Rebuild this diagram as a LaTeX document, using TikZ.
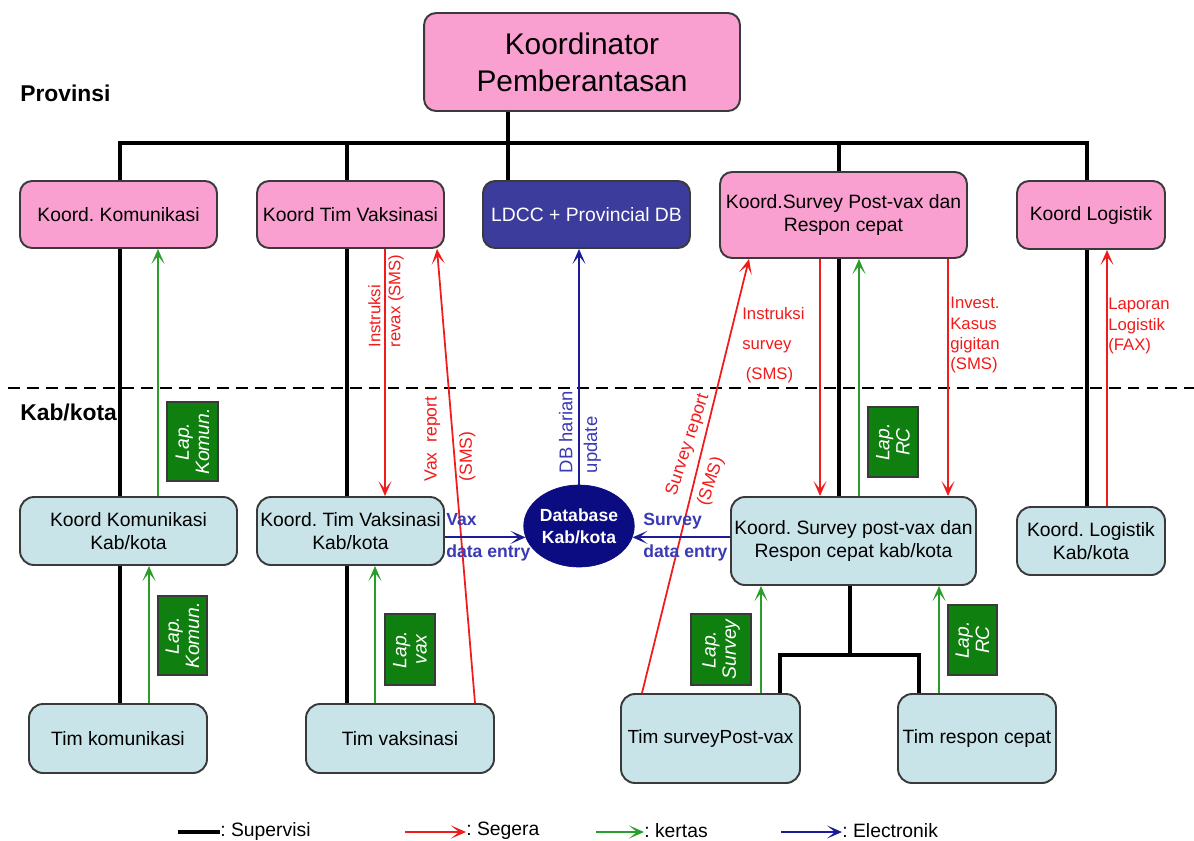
\documentclass[tikz,border=0pt]{standalone}
\usepackage{fontspec}
\setmainfont{Liberation Sans}
\usetikzlibrary{arrows.meta,shapes.geometric}
\definecolor{pinkf}{HTML}{FAA0D0}
\definecolor{lblue}{HTML}{C8E4E9}
\definecolor{ldccf}{HTML}{3C3C9C}
\definecolor{dbf}{HTML}{0C0C82}
\definecolor{lapg}{HTML}{0F800F}
\definecolor{kgreen}{HTML}{2A9D2A}
\definecolor{sred}{HTML}{F21B1B}
\definecolor{enavy}{HTML}{1C1C96}
\definecolor{btext}{HTML}{3A3AB4}
\definecolor{edge}{HTML}{3A3A3A}
\begin{document}
\frenchspacing
\begin{tikzpicture}[x=0.02cm,y=-0.02cm,
  nbox/.style={draw=edge, line width=1.1pt, rounded corners=2.4mm, inner sep=0pt, align=center, font=\fontsize{11}{13.5}\selectfont},
  pbox/.style={nbox, fill=pinkf},
  bbox/.style={nbox, fill=lblue, rounded corners=2.8mm},
  sup/.style={line width=2pt, black},
  arrowhd/.style={-{Stealth[length=3mm,width=2.6mm,inset=1.6mm]}},
  seg/.style={arrowhd, draw=sred, line width=1pt},
  ker/.style={arrowhd, draw=kgreen, line width=1pt},
  ele/.style={arrowhd, draw=enavy, line width=1pt},
  lap/.style={draw=edge, line width=0.8pt, fill=lapg, text=white, rotate=90, inner sep=0pt, align=center, font=\fontsize{11}{11.5}\selectfont\itshape},
  redlab/.style={text=sred, inner sep=0pt, font=\fontsize{9.5}{11.4}\selectfont},
  bluelab/.style={text=btext, inner sep=0pt, anchor=base west, font=\fontsize{10}{12}\selectfont\bfseries},
  tierlab/.style={inner sep=0pt, anchor=west, font=\fontsize{13}{15}\selectfont\bfseries},
  legtext/.style={inner sep=0pt, anchor=west, font=\fontsize{11}{13}\selectfont}
]
\useasboundingbox (0,0) rectangle (1194,840);
\fill[white] (0,0) rectangle (1194,840);

% ---------- Provinsi level ----------
\node[pbox, minimum width=6.32cm, minimum height=1.96cm, font=\fontsize{17}{21}\selectfont] (kp) at (582,62) {Koordinator\\Pemberantasan};
\node[pbox, minimum width=3.94cm, minimum height=1.34cm] (kom) at (118.5,214.5) {Koord. Komunikasi};
\node[pbox, minimum width=3.74cm, minimum height=1.34cm] (vak) at (350.5,214.5) {Koord Tim Vaksinasi};
\node[nbox, fill=ldccf, text=white, minimum width=4.14cm, minimum height=1.34cm] (ldcc) at (586.5,214.5) {LDCC + Provincial DB};
\node[pbox, minimum width=4.94cm, minimum height=1.72cm] (sur) at (843.5,215) {Koord.Survey Post-vax dan\\Respon cepat};
\node[pbox, minimum width=2.96cm, minimum height=1.36cm] (log) at (1091,215) {Koord Logistik};

% ---------- Kab/kota level ----------
\node[bbox, minimum width=4.34cm, minimum height=1.36cm] (kkom) at (128.5,531) {Koord Komunikasi\\Kab/kota};
\node[bbox, minimum width=3.74cm, minimum height=1.36cm] (kvak) at (350.5,531) {Koord. Tim Vaksinasi\\Kab/kota};
\node[ellipse, fill=dbf, draw=dbf, minimum width=1.88cm, minimum height=1.64cm, inner sep=0pt, text=white, align=center, font=\fontsize{10}{12.5}\selectfont\bfseries] (db) at (579,526) {Database\\Kab/kota};
\node[bbox, minimum width=4.90cm, minimum height=1.76cm] (ksur) at (853.5,541) {Koord. Survey post-vax dan\\Respon cepat kab/kota};
\node[bbox, minimum width=2.96cm, minimum height=1.36cm] (klog) at (1091,541) {Koord. Logistik\\Kab/kota};

\node[bbox, minimum width=3.56cm, minimum height=1.38cm] (tkom) at (118,738.5) {Tim komunikasi};
\node[bbox, minimum width=3.76cm, minimum height=1.38cm] (tvak) at (400,738.5) {Tim vaksinasi};
\node[bbox, minimum width=3.58cm, minimum height=1.78cm, font=\fontsize{10.8}{13}\selectfont] (tsur) at (710.5,738.5) {Tim surveyPost-vax};
\node[bbox, minimum width=3.16cm, minimum height=1.78cm] (trc) at (977,738.5) {Tim respon cepat};

% ---------- tier labels and divider ----------
\node[tierlab] (prov) at (20,93) {Provinsi};
\node[tierlab] (kab) at (20,412) {Kab/kota};
\coordinate (dl) at (8,388);
\coordinate (dr) at (1194,388);
\draw[line width=1.4pt, dash pattern=on 6.8pt off 4pt] (dl) -- (dr);

% ---------- x positions ----------
\coordinate (xs1) at (120,0);
\coordinate (xs2) at (347,0);
\coordinate (xs3) at (508,0);
\coordinate (xs4) at (839,0);
\coordinate (xs5) at (1087,0);
\coordinate (bus1) at (120,143);
\coordinate (bus5) at (1087,143);
\coordinate (t0) at (850,655);
\coordinate (t1) at (780,655);
\coordinate (t2) at (919,655);

% ---------- supervisi ----------
\draw[sup] (kom.north -| bus1) -- (bus1) -- (bus5) -- (log.north -| bus5);
\draw[sup] (vak.north -| xs2) -- (xs2 |- bus1);
\draw[sup] (kp.south -| xs3) -- (ldcc.north -| xs3);
\draw[sup] (sur.north -| xs4) -- (xs4 |- bus1);
\draw[sup] (kom.south -| xs1) -- (kkom.north -| xs1);
\draw[sup] (kkom.south -| xs1) -- (tkom.north -| xs1);
\draw[sup] (vak.south -| xs2) -- (kvak.north -| xs2);
\draw[sup] (kvak.south -| xs2) -- (tvak.north -| xs2);
\draw[sup] (sur.south -| xs4) -- (ksur.north -| xs4);
\draw[sup] (log.south -| xs5) -- (klog.north -| xs5);
\draw[sup] (ksur.south -| t0) -- (t0);
\draw[sup] (tsur.north -| t1) |- (t2) -- (trc.north -| t2);

% ---------- kertas (green) ----------
\coordinate (g1) at (158,0);
\coordinate (g2) at (149,0);
\coordinate (g3) at (375,0);
\coordinate (g4) at (859,0);
\coordinate (g5) at (761,0);
\coordinate (g6) at (939,0);
\draw[ker] (kkom.north -| g1) -- (kom.south -| g1);
\draw[ker] (tkom.north -| g2) -- (kkom.south -| g2);
\draw[ker] (tvak.north -| g3) -- (kvak.south -| g3);
\draw[ker] (ksur.north -| g4) -- (sur.south -| g4);
\draw[ker] (tsur.north -| g5) -- (ksur.south -| g5);
\draw[ker] (trc.north -| g6) -- (ksur.south -| g6);

% ---------- segera (red) ----------
\coordinate (r1) at (385,0);
\coordinate (r2a) at (475,0);
\coordinate (r2b) at (437,0);
\coordinate (r3a) at (642,0);
\coordinate (r3b) at (749,0);
\coordinate (r4) at (820,0);
\coordinate (r5) at (948,0);
\coordinate (r6) at (1107,0);
\draw[seg] (vak.south -| r1) -- (kvak.north -| r1);
\draw[seg] (tvak.north -| r2a) -- (vak.south -| r2b);
\draw[seg] (tsur.north -| r3a) -- (sur.south -| r3b);
\draw[seg] (sur.south -| r4) -- (ksur.north -| r4);
\draw[seg] (sur.south -| r5) -- (ksur.north -| r5);
\draw[seg] (klog.north -| r6) -- (log.south -| r6);

% ---------- electronik (blue) ----------
\draw[ele] (db.north) -- (ldcc.south -| db.north);
\draw[ele] (kvak.east |- db.192) -- (db.192);
\draw[ele] (ksur.west |- db.348) -- (db.348);

% ---------- labels ----------
\node[redlab, rotate=90, align=left] (lrevax) at (386,301) {Instruksi\\revax (SMS)};
\node[redlab, rotate=90, align=left, font=\fontsize{10}{20}\selectfont] (lvax) at (450,439) {Vax\ \ report\\(SMS)};
\node[redlab, rotate=72, align=left, font=\fontsize{10}{19}\selectfont] (lsurv) at (704,450) {Survey report\\(SMS)};
\node[redlab, anchor=west, align=left, font=\fontsize{9.5}{17}\selectfont] (linst) at (742,345) {Instruksi\\survey\\\hspace*{2pt}(SMS)};
\node[redlab, anchor=west, align=left] (linv) at (950,335) {Invest.\\Kasus\\gigitan\\(SMS)};
\node[redlab, anchor=west, align=left] (llog) at (1108,326) {Laporan\\Logistik\\(FAX)};

\node[bluelab] (lvx) at (446,525) {Vax};
\node[bluelab] (lvde) at (446,557) {data entry};
\node[bluelab] (lsv) at (643,525) {Survey};
\node[bluelab] (lsde) at (643,557) {data entry};
\node[text=btext, inner sep=0pt, rotate=90, align=left, font=\fontsize{10.5}{14}\selectfont] (ldb) at (580,432) {DB harian\\update};

\node[lap, minimum width=1.58cm, minimum height=1.02cm] (lap1) at (192.5,441.5) {Lap.\\Komun.};
\node[lap, minimum width=1.58cm, minimum height=0.98cm] (lap2) at (182.5,635.5) {Lap.\\Komun.};
\node[lap, minimum width=1.42cm, minimum height=1.0cm] (lap3) at (410,649.5) {Lap.\\vax};
\node[lap, minimum width=1.40cm, minimum height=1.0cm] (lap4) at (893,442) {Lap.\\RC};
\node[lap, minimum width=1.42cm, minimum height=1.2cm] (lap5) at (721,649.5) {Lap.\\Survey};
\node[lap, minimum width=1.40cm, minimum height=0.98cm] (lap6) at (972.5,640) {Lap.\\RC};

% ---------- legend ----------
\node[legtext] (leg1) at (220,831) {: Supervisi};
\node[legtext] (leg2) at (466,831) {: Segera};
\node[legtext] (leg3) at (644,831) {: kertas};
\node[legtext] (leg4) at (842,831) {: Electronik};
\coordinate (s1) at (178,832);
\coordinate (s2) at (405,832);
\coordinate (s3) at (596,832);
\coordinate (s4) at (781,832);
\draw[sup] (s1) -- (leg1.west |- s1);
\draw[seg] (s2) -- (leg2.west |- s2);
\draw[ker] (s3) -- (leg3.west |- s3);
\draw[ele] (s4) -- (leg4.west |- s4);
\end{tikzpicture}
\end{document}
